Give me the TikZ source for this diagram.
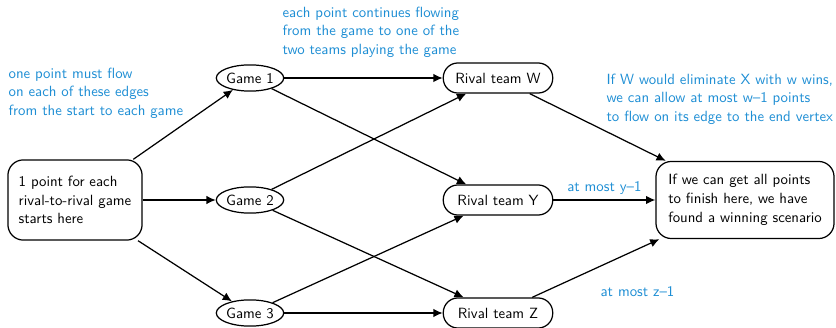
\documentclass[tikz,border=0pt]{standalone}
\usepackage{amsmath}
\usetikzlibrary{arrows.meta,shapes.geometric}
\definecolor{noteblue}{RGB}{30,142,212}

\begin{document}
\begin{tikzpicture}[x=0.0228cm, y=-0.0228cm, font=\sffamily\fontsize{9.6pt}{12.2pt}\selectfont, thick, >={Latex[length=6pt,width=5.5pt]},
    game/.style={draw, ellipse, inner sep=0pt, minimum width=43.5pt, minimum height=17pt},
    team/.style={draw, rounded corners=9.5pt, minimum width=71pt, minimum height=19.5pt},
    terminal/.style={draw, rounded corners=10pt, align=left},
    note/.style={text=noteblue, align=left, inner sep=0pt}]
    \useasboundingbox (0,0) rectangle (836,328);
    % vertices
    \node[terminal, minimum width=87pt, minimum height=52pt] (start) at (75,200) {1 point for each\\rival-to-rival game\\starts here};
    \node[game] (g1) at (250,78) {Game 1};
    \node[game] (g2) at (250,200) {Game 2};
    \node[game] (g3) at (250,313) {Game 3};
    \node[team] (w) at (498,78) {Rival team W};
    \node[team] (y) at (498,200) {Rival team Y};
    \node[team] (z) at (498,313) {Rival team Z};
    \node[terminal, minimum width=115.5pt, minimum height=50pt] (end) at (745,200) {If we can get all points\\to finish here, we have\\found a winning scenario};
    % edges
    \draw[->] (start) -- (g1);
    \draw[->] (start) -- (g2);
    \draw[->] (start) -- (g3);
    \draw[->] (g1) -- (w);
    \draw[->] (g1) -- (y);
    \draw[->] (g2) -- (w);
    \draw[->] (g2) -- (z);
    \draw[->] (g3) -- (y);
    \draw[->] (g3) -- (z);
    \draw[->] (w) -- (end);
    \draw[->] (y) -- node[note, above, inner sep=3pt] (ylabel) {at most y--1} (end);
    \draw[->] (z) -- (end);
    % notes
    \node[note, anchor=north west] (gamenote) at (8,67) {one point must flow\\on each of these edges\\from the start to each game};
    \node[note, anchor=north west] (teamnote) at (282,6) {each point continues flowing\\from the game to one of the\\two teams playing the game};
    \node[note, anchor=north west] (wnote) at (606,73) {If W would eliminate X with w wins,\\we can allow at most w--1 points\\to flow on its edge to the end vertex};
    \node[note, anchor=west] (zlabel) at (600,292) {at most z--1};
\end{tikzpicture}
\end{document}
